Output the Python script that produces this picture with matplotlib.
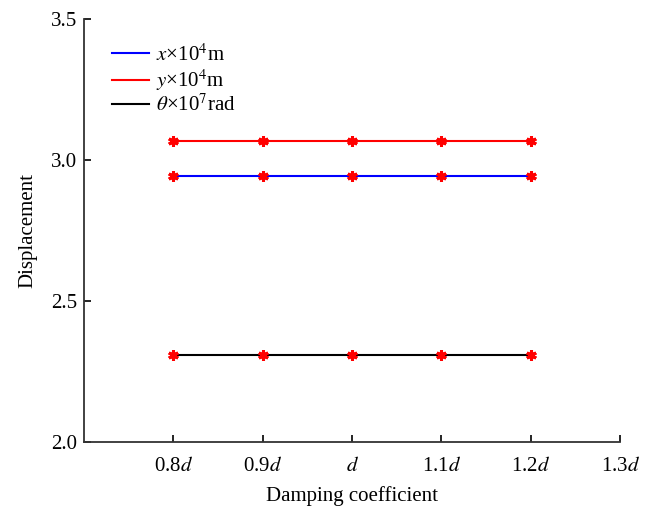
import numpy as np
import matplotlib
matplotlib.use('Agg')
import matplotlib.pyplot as plt

plt.rcParams['font.family'] = ['Liberation Serif', 'DejaVu Serif']
plt.rcParams['mathtext.fontset'] = 'stix'

# damping coefficient as multiple of d
damping = [0.8, 0.9, 1.0, 1.1, 1.2]
x_disp = [2.943, 2.943, 2.943, 2.943, 2.943]
y_disp = [3.068, 3.068, 3.068, 3.068, 3.068]
theta_disp = [2.308, 2.308, 2.308, 2.308, 2.308]

xtick_vals = [0.8, 0.9, 1.0, 1.1, 1.2, 1.3]
xtick_labels = ['0.8$d$', '0.9$d$', '$d$', '1.1$d$', '1.2$d$', '1.3$d$']
ytick_vals = [2.0, 2.5, 3.0, 3.5]

fig = plt.figure(figsize=(6.46, 5.07), dpi=100)
ax = fig.add_axes([0.130, 0.128, 0.830, 0.835])

ax.plot(damping, x_disp, color='blue', lw=1.5, label='$x$×10$^4$m')
ax.plot(damping, y_disp, color='red', lw=1.5, label='$y$×10$^4$m')
ax.plot(damping, theta_disp, color='black', lw=1.5, label='$\\theta$×10$^7$rad')

# red asterisk markers on every point
for s in (x_disp, y_disp, theta_disp):
    ax.plot(damping, s, ls='none', marker=(6, 2, 0), ms=7.5, mew=2.2, color='red')

ax.set_xlim(0.7, 1.3)
ax.set_ylim(2.0, 3.5)
ax.set_xticks(xtick_vals)
ax.set_xticklabels(xtick_labels)
ax.set_yticks(ytick_vals)
ax.set_yticklabels(['%.1f' % v for v in ytick_vals])
ax.tick_params(direction='in', length=5, labelsize=15, width=1.2)
ax.tick_params(axis='x', pad=11)
ax.tick_params(axis='y', pad=5)

for side in ('top', 'right'):
    ax.spines[side].set_visible(False)
for side in ('left', 'bottom'):
    ax.spines[side].set_linewidth(1.3)
    ax.spines[side].set_color('#333333')

ax.set_xlabel('Damping coefficient', fontsize=15, labelpad=7)
ax.set_ylabel('Displacement', fontsize=15, labelpad=10)

ax.legend(loc='upper left', frameon=False, fontsize=15, handlelength=1.75,
          handletextpad=0.35, labelspacing=0.08, bbox_to_anchor=(0.018, 0.985))

fig.savefig('out.png', dpi=100)
